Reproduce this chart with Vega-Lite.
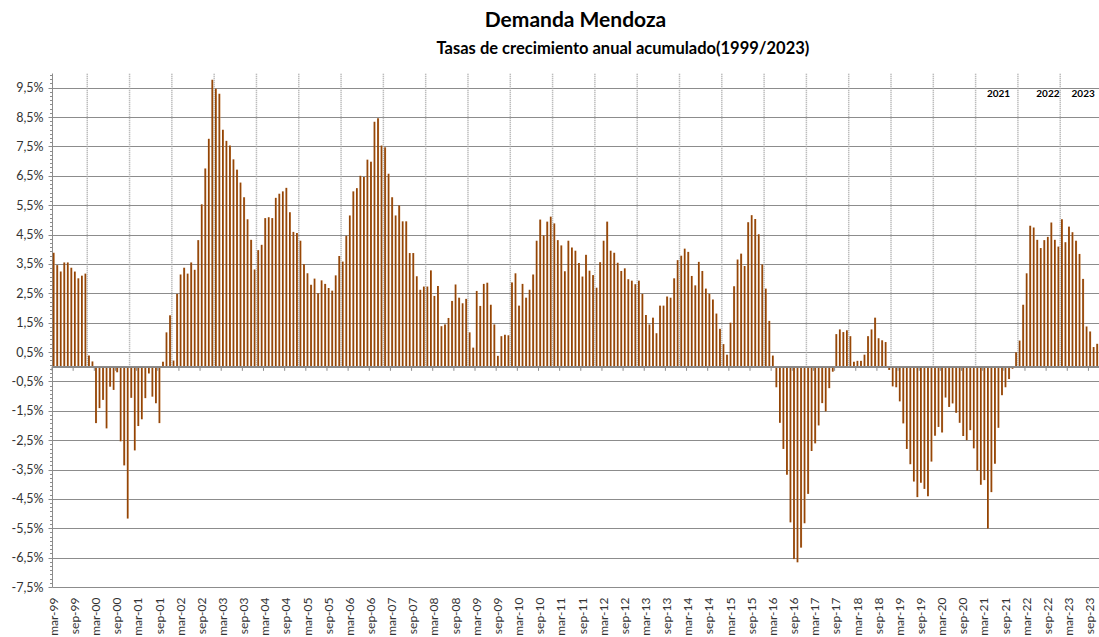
{
  "$schema": "https://vega.github.io/schema/vega-lite/v6.json",
  "autosize": {"type": "none"},
  "padding": {"left": 52, "top": 73, "right": 0, "bottom": 50},
  "width": 1047,
  "height": 514,
  "background": "white",
  "config": {"view": {"stroke": null}},
  "title": {
    "text": "Demanda Mendoza",
    "subtitle": "\u200b\u2003\u2003\u2003\u2003\u2003\u2003\u2003\u2002Tasas de crecimiento anual acumulado(1999/2023)",
    "font": "Lato", "fontSize": 21, "fontWeight": "bold", "color": "#000000",
    "subtitleFont": "Lato", "subtitleFontSize": 16.5, "subtitleFontWeight": "bold", "subtitleColor": "#000000",
    "anchor": "middle", "frame": "group", "offset": 12, "subtitlePadding": 10
  },
  "data": {"values": [
    {"m":"mar-99","v":3.88},{"m":"abr-99","v":3.46},{"m":"may-99","v":3.24},{"m":"jun-99","v":3.55},{"m":"jul-99","v":3.55},{"m":"ago-99","v":3.37},{"m":"sep-99","v":3.24},{"m":"oct-99","v":3.01},{"m":"nov-99","v":3.10},{"m":"dic-99","v":3.17},
    {"m":"ene-00","v":0.38},{"m":"feb-00","v":0.18},{"m":"mar-00","v":-1.92},{"m":"abr-00","v":-1.41},{"m":"may-00","v":-1.13},{"m":"jun-00","v":-2.10},{"m":"jul-00","v":-0.68},{"m":"ago-00","v":-0.79},{"m":"sep-00","v":-0.19},{"m":"oct-00","v":-2.54},{"m":"nov-00","v":-3.36},{"m":"dic-00","v":-5.17},
    {"m":"ene-01","v":-1.06},{"m":"feb-01","v":-2.85},{"m":"mar-01","v":-2.02},{"m":"abr-01","v":-1.79},{"m":"may-01","v":-1.07},{"m":"jun-01","v":-0.23},{"m":"jul-01","v":-1.02},{"m":"ago-01","v":-1.24},{"m":"sep-01","v":-1.92},{"m":"oct-01","v":0.17},{"m":"nov-01","v":1.17},{"m":"dic-01","v":1.75},
    {"m":"ene-02","v":0.21},{"m":"feb-02","v":2.48},{"m":"mar-02","v":3.14},{"m":"abr-02","v":3.37},{"m":"may-02","v":3.17},{"m":"jun-02","v":3.55},{"m":"jul-02","v":3.30},{"m":"ago-02","v":4.31},{"m":"sep-02","v":5.53},{"m":"oct-02","v":6.75},{"m":"nov-02","v":7.76},{"m":"dic-02","v":9.77},
    {"m":"ene-03","v":9.46},{"m":"feb-03","v":9.29},{"m":"mar-03","v":8.07},{"m":"abr-03","v":7.69},{"m":"may-03","v":7.53},{"m":"jun-03","v":7.06},{"m":"jul-03","v":6.71},{"m":"ago-03","v":6.27},{"m":"sep-03","v":5.77},{"m":"oct-03","v":5.02},{"m":"nov-03","v":4.32},{"m":"dic-03","v":3.31},
    {"m":"ene-04","v":3.97},{"m":"feb-04","v":4.15},{"m":"mar-04","v":5.06},{"m":"abr-04","v":5.09},{"m":"may-04","v":5.06},{"m":"jun-04","v":5.75},{"m":"jul-04","v":5.89},{"m":"ago-04","v":5.97},{"m":"sep-04","v":6.09},{"m":"oct-04","v":5.26},{"m":"nov-04","v":4.59},{"m":"dic-04","v":4.55},
    {"m":"ene-05","v":4.29},{"m":"feb-05","v":3.49},{"m":"mar-05","v":3.18},{"m":"abr-05","v":2.79},{"m":"may-05","v":3.00},{"m":"jun-05","v":2.50},{"m":"jul-05","v":2.94},{"m":"ago-05","v":2.82},{"m":"sep-05","v":2.68},{"m":"oct-05","v":2.59},{"m":"nov-05","v":3.11},{"m":"dic-05","v":3.77},
    {"m":"ene-06","v":3.58},{"m":"feb-06","v":4.46},{"m":"mar-06","v":5.15},{"m":"abr-06","v":5.97},{"m":"may-06","v":6.08},{"m":"jun-06","v":6.50},{"m":"jul-06","v":6.46},{"m":"ago-06","v":7.05},{"m":"sep-06","v":6.98},{"m":"oct-06","v":8.34},{"m":"nov-06","v":8.46},{"m":"dic-06","v":7.53},
    {"m":"ene-07","v":7.47},{"m":"feb-07","v":6.57},{"m":"mar-07","v":5.77},{"m":"abr-07","v":5.15},{"m":"may-07","v":5.49},{"m":"jun-07","v":4.95},{"m":"jul-07","v":4.95},{"m":"ago-07","v":3.87},{"m":"sep-07","v":3.87},{"m":"oct-07","v":3.08},{"m":"nov-07","v":2.62},{"m":"dic-07","v":2.73},
    {"m":"ene-08","v":2.73},{"m":"feb-08","v":3.28},{"m":"mar-08","v":2.41},{"m":"abr-08","v":2.75},{"m":"may-08","v":1.38},{"m":"jun-08","v":1.44},{"m":"jul-08","v":1.66},{"m":"ago-08","v":2.24},{"m":"sep-08","v":2.80},{"m":"oct-08","v":2.35},{"m":"nov-08","v":2.16},{"m":"dic-08","v":2.31},
    {"m":"ene-09","v":1.17},{"m":"feb-09","v":0.65},{"m":"mar-09","v":2.58},{"m":"abr-09","v":2.07},{"m":"may-09","v":2.82},{"m":"jun-09","v":2.86},{"m":"jul-09","v":2.11},{"m":"ago-09","v":1.44},{"m":"sep-09","v":0.37},{"m":"oct-09","v":1.04},{"m":"nov-09","v":1.09},{"m":"dic-09","v":1.07},
    {"m":"ene-10","v":2.87},{"m":"feb-10","v":3.18},{"m":"mar-10","v":2.08},{"m":"abr-10","v":2.82},{"m":"may-10","v":2.35},{"m":"jun-10","v":2.62},{"m":"jul-10","v":3.14},{"m":"ago-10","v":4.29},{"m":"sep-10","v":5.01},{"m":"oct-10","v":4.47},{"m":"nov-10","v":4.94},{"m":"dic-10","v":5.11},
    {"m":"ene-11","v":4.88},{"m":"feb-11","v":4.31},{"m":"mar-11","v":4.13},{"m":"abr-11","v":3.25},{"m":"may-11","v":4.29},{"m":"jun-11","v":4.06},{"m":"jul-11","v":3.95},{"m":"ago-11","v":3.53},{"m":"sep-11","v":3.07},{"m":"oct-11","v":3.81},{"m":"nov-11","v":3.27},{"m":"dic-11","v":3.12},
    {"m":"ene-12","v":2.69},{"m":"feb-12","v":3.56},{"m":"mar-12","v":4.29},{"m":"abr-12","v":4.94},{"m":"may-12","v":3.95},{"m":"jun-12","v":3.88},{"m":"jul-12","v":3.54},{"m":"ago-12","v":3.26},{"m":"sep-12","v":3.35},{"m":"oct-12","v":2.98},{"m":"nov-12","v":2.93},{"m":"dic-12","v":2.81},
    {"m":"ene-13","v":2.93},{"m":"feb-13","v":2.48},{"m":"mar-13","v":1.76},{"m":"abr-13","v":1.44},{"m":"may-13","v":1.67},{"m":"jun-13","v":1.14},{"m":"jul-13","v":2.08},{"m":"ago-13","v":2.08},{"m":"sep-13","v":2.39},{"m":"oct-13","v":2.35},{"m":"nov-13","v":3.01},{"m":"dic-13","v":3.63},
    {"m":"ene-14","v":3.78},{"m":"feb-14","v":4.02},{"m":"mar-14","v":3.91},{"m":"abr-14","v":3.09},{"m":"may-14","v":2.77},{"m":"jun-14","v":3.57},{"m":"jul-14","v":3.26},{"m":"ago-14","v":2.66},{"m":"sep-14","v":2.48},{"m":"oct-14","v":2.29},{"m":"nov-14","v":1.81},{"m":"dic-14","v":1.29},
    {"m":"ene-15","v":0.77},{"m":"feb-15","v":0.41},{"m":"mar-15","v":1.50},{"m":"abr-15","v":2.74},{"m":"may-15","v":3.65},{"m":"jun-15","v":3.85},{"m":"jul-15","v":3.43},{"m":"ago-15","v":4.92},{"m":"sep-15","v":5.16},{"m":"oct-15","v":5.03},{"m":"nov-15","v":4.51},{"m":"dic-15","v":3.48},
    {"m":"ene-16","v":2.66},{"m":"feb-16","v":1.56},{"m":"mar-16","v":0.38},{"m":"abr-16","v":-0.70},{"m":"may-16","v":-1.91},{"m":"jun-16","v":-2.80},{"m":"jul-16","v":-3.68},{"m":"ago-16","v":-5.30},{"m":"sep-16","v":-6.55},{"m":"oct-16","v":-6.66},{"m":"nov-16","v":-6.16},{"m":"dic-16","v":-5.33},
    {"m":"ene-17","v":-4.33},{"m":"feb-17","v":-2.87},{"m":"mar-17","v":-2.61},{"m":"abr-17","v":-2.00},{"m":"may-17","v":-1.24},{"m":"jun-17","v":-1.52},{"m":"jul-17","v":-0.73},{"m":"ago-17","v":-0.17},{"m":"sep-17","v":1.11},{"m":"oct-17","v":1.27},{"m":"nov-17","v":1.18},{"m":"dic-17","v":1.24},
    {"m":"ene-18","v":1.04},{"m":"feb-18","v":0.17},{"m":"mar-18","v":0.20},{"m":"abr-18","v":0.20},{"m":"may-18","v":0.41},{"m":"jun-18","v":1.04},{"m":"jul-18","v":1.27},{"m":"ago-18","v":1.67},{"m":"sep-18","v":0.97},{"m":"oct-18","v":0.90},{"m":"nov-18","v":0.84},{"m":"dic-18","v":-0.11},
    {"m":"ene-19","v":-0.67},{"m":"feb-19","v":-0.70},{"m":"mar-19","v":-1.18},{"m":"abr-19","v":-1.93},{"m":"may-19","v":-2.80},{"m":"jun-19","v":-3.32},{"m":"jul-19","v":-3.91},{"m":"ago-19","v":-4.44},{"m":"sep-19","v":-3.95},{"m":"oct-19","v":-4.16},{"m":"nov-19","v":-4.41},{"m":"dic-19","v":-3.23},
    {"m":"ene-20","v":-2.35},{"m":"feb-20","v":-2.05},{"m":"mar-20","v":-2.24},{"m":"abr-20","v":-1.05},{"m":"may-20","v":-1.37},{"m":"jun-20","v":-1.25},{"m":"jul-20","v":-1.57},{"m":"ago-20","v":-1.91},{"m":"sep-20","v":-2.36},{"m":"oct-20","v":-2.50},{"m":"nov-20","v":-2.16},{"m":"dic-20","v":-2.78},
    {"m":"ene-21","v":-3.54},{"m":"feb-21","v":-4.02},{"m":"mar-21","v":-3.86},{"m":"abr-21","v":-5.51},{"m":"may-21","v":-4.27},{"m":"jun-21","v":-3.30},{"m":"jul-21","v":-2.08,"t":"2021"},{"m":"ago-21","v":-0.97},{"m":"sep-21","v":-0.70},{"m":"oct-21","v":-0.42},{"m":"nov-21","v":-0.07},{"m":"dic-21","v":0.49},
    {"m":"ene-22","v":0.89},{"m":"feb-22","v":2.11},{"m":"mar-22","v":3.18},{"m":"abr-22","v":4.80},{"m":"may-22","v":4.74},{"m":"jun-22","v":4.32},{"m":"jul-22","v":4.04},{"m":"ago-22","v":4.31},{"m":"sep-22","v":4.42,"t":"2022"},{"m":"oct-22","v":4.91},{"m":"nov-22","v":4.32},{"m":"dic-22","v":4.09},
    {"m":"ene-23","v":5.02},{"m":"feb-23","v":4.24},{"m":"mar-23","v":4.77},{"m":"abr-23","v":4.58},{"m":"may-23","v":4.29},{"m":"jun-23","v":3.84},{"m":"jul-23","v":2.99,"t":"2023"},{"m":"ago-23","v":1.37},{"m":"sep-23","v":1.20},{"m":"oct-23","v":0.67},{"m":"nov-23","v":0.78}
  ]},
  "layer": [
    {
      "mark": {
        "type": "bar",
        "width": {"band": 0.55},
        "fill": {"gradient": "linear", "x1": 0, "y1": 0, "x2": 1, "y2": 0,
          "stops": [{"offset": 0, "color": "#8a3e02"}, {"offset": 0.65, "color": "#9a4a0a"}, {"offset": 1, "color": "#c4844c"}]},
        "stroke": null
      },
      "encoding": {
        "x": {
          "field": "m", "type": "ordinal", "sort": null,
          "scale": {"paddingInner": 0, "paddingOuter": 0},
          "axis": {
            "title": null, "ticks": false, "domain": false, "grid": false,
            "labelAngle": -90, "labelAlign": "right", "labelBaseline": "middle",
            "labelPadding": 10, "labelFont": "Lato", "labelFontSize": 12, "labelColor": "#333333",
            "labelOverlap": false, "labelBound": false,
            "values": ["mar-99","sep-99","mar-00","sep-00","mar-01","sep-01","mar-02","sep-02","mar-03","sep-03","mar-04","sep-04","mar-05","sep-05","mar-06","sep-06","mar-07","sep-07","mar-08","sep-08","mar-09","sep-09","mar-10","sep-10","mar-11","sep-11","mar-12","sep-12","mar-13","sep-13","mar-14","sep-14","mar-15","sep-15","mar-16","sep-16","mar-17","sep-17","mar-18","sep-18","mar-19","sep-19","mar-20","sep-20","mar-21","sep-21","mar-22","sep-22","mar-23","sep-23"]
          }
        },
        "y": {
          "field": "v", "type": "quantitative",
          "scale": {"domain": [-7.5, 10], "nice": false, "zero": false},
          "axis": {
            "title": null,
            "tickCount": 1000,
            "values": [-7.5,-7.3571,-7.2143,-7.0714,-6.9286,-6.7857,-6.6429,-6.5,-6.3571,-6.2143,-6.0714,-5.9286,-5.7857,-5.6429,-5.5,-5.3571,-5.2143,-5.0714,-4.9286,-4.7857,-4.6429,-4.5,-4.3571,-4.2143,-4.0714,-3.9286,-3.7857,-3.6429,-3.5,-3.3571,-3.2143,-3.0714,-2.9286,-2.7857,-2.6429,-2.5,-2.3571,-2.2143,-2.0714,-1.9286,-1.7857,-1.6429,-1.5,-1.3571,-1.2143,-1.0714,-0.9286,-0.7857,-0.6429,-0.5,-0.3571,-0.2143,-0.0714,0.0714,0.2143,0.3571,0.5,0.6429,0.7857,0.9286,1.0714,1.2143,1.3571,1.5,1.6429,1.7857,1.9286,2.0714,2.2143,2.3571,2.5,2.6429,2.7857,2.9286,3.0714,3.2143,3.3571,3.5,3.6429,3.7857,3.9286,4.0714,4.2143,4.3571,4.5,4.6429,4.7857,4.9286,5.0714,5.2143,5.3571,5.5,5.6429,5.7857,5.9286,6.0714,6.2143,6.3571,6.5,6.6429,6.7857,6.9286,7.0714,7.2143,7.3571,7.5,7.6429,7.7857,7.9286,8.0714,8.2143,8.3571,8.5,8.6429,8.7857,8.9286,9.0714,9.2143,9.3571,9.5,9.6429,9.7857,9.9286],
            "labelExpr": "abs(datum.value - floor(datum.value) - 0.5) < 0.01 ? (datum.value < 0 ? '-' : '') + replace(format(abs(datum.value), '.1f'), '.', ',') + '%' : ''",
            "labelOverlap": false, "labelFlush": false,
            "labelFont": "Lato", "labelFontSize": 12.5, "labelColor": "#333333", "labelPadding": 5,
            "domain": true, "domainColor": "#8c8c8c",
            "tickColor": "#8c8c8c",
            "tickSize": {"condition": {"test": "abs(datum.value - floor(datum.value) - 0.5) < 0.01", "value": 4}, "value": 2.5},
            "grid": true, "gridColor": "#8c8c8c",
            "gridOpacity": {"condition": {"test": "abs(datum.value - floor(datum.value) - 0.5) < 0.01", "value": 1}, "value": 0}
          }
        }
      }
    },
    {
      "transform": [{"filter": "indexof(datum.m, 'dic') == 0"}],
      "mark": {"type": "rule", "stroke": "#a6a6a6", "strokeDash": [1, 1], "strokeWidth": 1.5},
      "encoding": {
        "x": {"field": "m", "type": "ordinal", "sort": null, "bandPosition": 1},
        "y": {"datum": 0},
        "y2": {"datum": 10}
      }
    },
    {
      "mark": {"type": "rule", "stroke": "#8c8c8c", "strokeWidth": 1},
      "encoding": {"y": {"datum": 0}}
    },
    {
      "transform": [{"filter": "indexof(datum.m, 'mar') == 0 || indexof(datum.m, 'sep') == 0"}],
      "mark": {"type": "rule", "stroke": "#8c8c8c", "strokeWidth": 1},
      "encoding": {
        "x": {"field": "m", "type": "ordinal", "sort": null, "bandPosition": 0},
        "y": {"datum": 0},
        "y2": {"datum": -0.14}
      }
    },
    {
      "transform": [{"filter": "datum.t"}],
      "mark": {"type": "text", "font": "Lato", "fontSize": 10, "fontWeight": "bold", "color": "#000000", "baseline": "middle", "align": "center"},
      "encoding": {
        "x": {"field": "m", "type": "ordinal", "sort": null},
        "y": {"datum": 9.3},
        "text": {"field": "t"}
      }
    }
  ]
}
